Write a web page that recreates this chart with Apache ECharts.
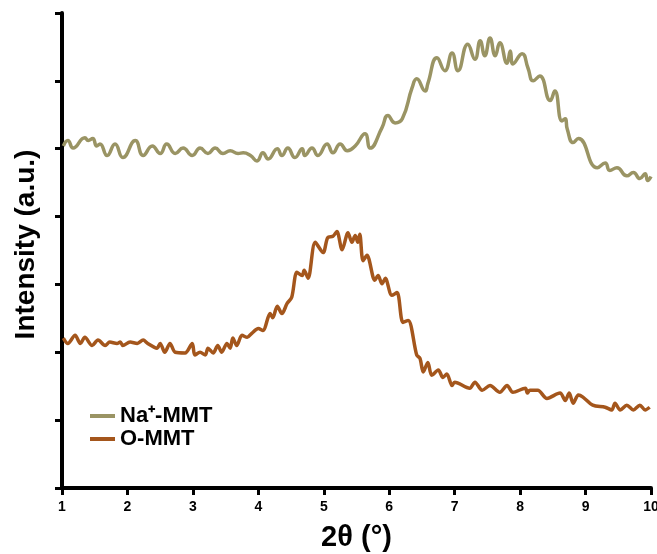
<!DOCTYPE html>
<html>
<head>
<meta charset="utf-8">
<script src="https://cdn.jsdelivr.net/npm/echarts@6/dist/echarts.min.js"></script>
<style>
    html, body { margin: 0; padding: 0; background: #fff; }
    #chart { width: 657px; height: 554px; }
</style>
</head>
<body>
<div id="chart"></div>
<script>
// 2θ 读数 (Na+-MMT)
const naX = [1.02, 1.09, 1.17, 1.35, 1.40, 1.47, 1.53, 1.58, 1.69, 1.81, 1.93, 2.12, 2.24, 2.38, 2.50,
    2.60, 2.73, 2.85, 2.99, 3.11, 3.23, 3.34, 3.46, 3.57, 3.69, 3.77, 3.88, 3.98, 4.07, 4.15,
    4.29, 4.36, 4.45, 4.56, 4.67, 4.71, 4.82, 4.91, 5.05, 5.14, 5.25, 5.36, 5.48, 5.63, 5.71,
    5.89, 5.98, 6.09, 6.20, 6.35, 6.42, 6.55, 6.59, 6.73, 6.85, 6.96, 7.05, 7.20, 7.31, 7.39,
    7.46, 7.54, 7.62, 7.69, 7.80, 7.85, 7.89, 8.03, 8.12, 8.20, 8.30, 8.46, 8.53, 8.64, 8.69,
    8.72, 8.81, 8.89, 9.18, 9.30, 9.37, 9.48, 9.63, 9.73, 9.83, 9.91, 9.95, 10.0];
const naY = [5.04, 5.12, 5.01, 5.16, 5.12, 5.15, 5.04, 5.07, 4.90, 5.07, 4.87, 5.12, 4.90, 5.04, 4.93,
    5.07, 4.93, 5.01, 4.90, 5.01, 4.93, 5.01, 4.93, 4.97, 4.93, 4.94, 4.90, 4.82, 4.94, 4.85,
    5.00, 4.90, 5.01, 4.87, 5.00, 4.90, 5.01, 4.90, 5.07, 4.94, 5.07, 4.97, 5.04, 5.22, 5.01,
    5.31, 5.49, 5.38, 5.44, 5.90, 6.03, 5.85, 5.96, 6.34, 6.15, 6.41, 6.15, 6.54, 6.32, 6.59,
    6.37, 6.63, 6.37, 6.56, 6.26, 6.44, 6.25, 6.40, 6.19, 6.00, 6.07, 5.71, 5.85, 5.41, 5.44,
    5.29, 5.09, 5.15, 4.72, 4.79, 4.68, 4.72, 4.60, 4.65, 4.56, 4.63, 4.53, 4.59];

// 2θ 读数 (O-MMT)
const oX = [1.02, 1.09, 1.20, 1.28, 1.35, 1.46, 1.55, 1.66, 1.73, 1.84, 1.89, 1.93, 2.04, 2.15, 2.24,
    2.31, 2.45, 2.50, 2.57, 2.65, 2.73, 2.88, 2.99, 3.03, 3.11, 3.19, 3.23, 3.31, 3.38, 3.44,
    3.52, 3.57, 3.61, 3.67, 3.75, 3.83, 3.90, 4.00, 4.07, 4.18, 4.22, 4.29, 4.36, 4.44, 4.51,
    4.59, 4.67, 4.70, 4.76, 4.87, 4.99, 5.06, 5.14, 5.20, 5.28, 5.37, 5.43, 5.48, 5.52, 5.55,
    5.60, 5.66, 5.78, 5.83, 5.89, 5.94, 6.04, 6.12, 6.21, 6.29, 6.42, 6.47, 6.52, 6.59, 6.65,
    6.75, 6.82, 6.88, 6.96, 7.00, 7.23, 7.31, 7.42, 7.54, 7.69, 7.80, 7.89, 8.08, 8.11, 8.15,
    8.27, 8.41, 8.61, 8.69, 8.75, 8.81, 8.89, 8.96, 9.11, 9.30, 9.40, 9.45, 9.53, 9.63, 9.73,
    9.83, 9.91, 9.98];
const oY = [2.21, 2.13, 2.25, 2.13, 2.22, 2.10, 2.18, 2.10, 2.15, 2.13, 2.15, 2.10, 2.15, 2.13, 2.18,
    2.13, 2.06, 2.13, 2.00, 2.13, 2.00, 1.99, 2.13, 1.96, 2.00, 1.96, 2.06, 1.99, 2.10, 2.00,
    2.13, 2.06, 2.21, 2.10, 2.25, 2.22, 2.28, 2.35, 2.32, 2.57, 2.51, 2.68, 2.57, 2.72, 2.81,
    3.18, 3.13, 3.21, 3.09, 3.62, 3.47, 3.69, 3.71, 3.78, 3.51, 3.76, 3.62, 3.72, 3.62, 3.74,
    3.35, 3.43, 3.06, 3.13, 3.01, 3.09, 2.84, 2.88, 2.44, 2.47, 1.96, 1.91, 1.71, 1.85, 1.66,
    1.74, 1.63, 1.68, 1.51, 1.56, 1.47, 1.56, 1.44, 1.51, 1.41, 1.51, 1.41, 1.47, 1.40, 1.44,
    1.44, 1.32, 1.40, 1.29, 1.40, 1.25, 1.37, 1.34, 1.22, 1.19, 1.15, 1.25, 1.15, 1.22, 1.15,
    1.22, 1.15, 1.19];

const seriesNames = ['Na⁺-MMT', 'O-MMT'];
const seriesColors = ['#9a9464', '#a4561c'];

const zip = (xs, ys) => xs.map((x, i) => [x, ys[i]]);

const chart = echarts.init(document.getElementById('chart'));

const axisBase = {
    axisLine: { show: true, lineStyle: { color: '#000', width: 4 } },
    axisTick: { show: true, inside: false, length: 7, lineStyle: { color: '#000', width: 3 } },
    splitLine: { show: false }
};

const titleFont = {
    color: '#000',
    fontFamily: 'Liberation Sans, Arial, sans-serif',
    fontWeight: 'bold',
    fontSize: 28
};

chart.setOption({
    animation: false,
    backgroundColor: '#fff',
    grid: { left: 62, right: 6, top: 13, bottom: 66, outerBoundsMode: 'none' },
    legend: {
        orient: 'vertical',
        left: 85,
        top: 400,
        itemWidth: 25,
        itemHeight: 4,
        itemGap: 1,
        icon: 'rect',
        data: seriesNames,
        textStyle: {
            color: '#000',
            fontFamily: 'Liberation Sans, Arial, sans-serif',
            fontWeight: 'bold',
            fontSize: 22
        }
    },
    xAxis: Object.assign({}, axisBase, {
        type: 'value',
        min: 1,
        max: 10,
        interval: 1,
        name: '2θ (°)',
        nameLocation: 'middle',
        nameGap: 35,
        nameTextStyle: Object.assign({}, titleFont, { fontSize: 29 }),
        axisLabel: {
            color: '#000',
            fontFamily: 'Liberation Sans, Arial, sans-serif',
            fontWeight: 'bold',
            fontSize: 14,
            margin: 12
        }
    }),
    yAxis: Object.assign({}, axisBase, {
        type: 'value',
        min: 0,
        max: 7,
        interval: 1,
        name: 'Intensity (a.u.)',
        nameLocation: 'middle',
        nameGap: 22,
        // 标题略微上移
        nameTextStyle: Object.assign({}, titleFont, { padding: [0, 0, 0, 12] }),
        axisLabel: { show: false }
    }),
    series: [
        {
            name: seriesNames[0],
            type: 'line',
            data: zip(naX, naY),
            showSymbol: false,
            smooth: 0.5,
            lineStyle: { color: seriesColors[0], width: 3.5 },
            itemStyle: { color: seriesColors[0] }
        },
        {
            name: seriesNames[1],
            type: 'line',
            data: zip(oX, oY),
            showSymbol: false,
            smooth: 0.3,
            lineStyle: { color: seriesColors[1], width: 3.5 },
            itemStyle: { color: seriesColors[1] }
        }
    ]
});
</script>
</body>
</html>
